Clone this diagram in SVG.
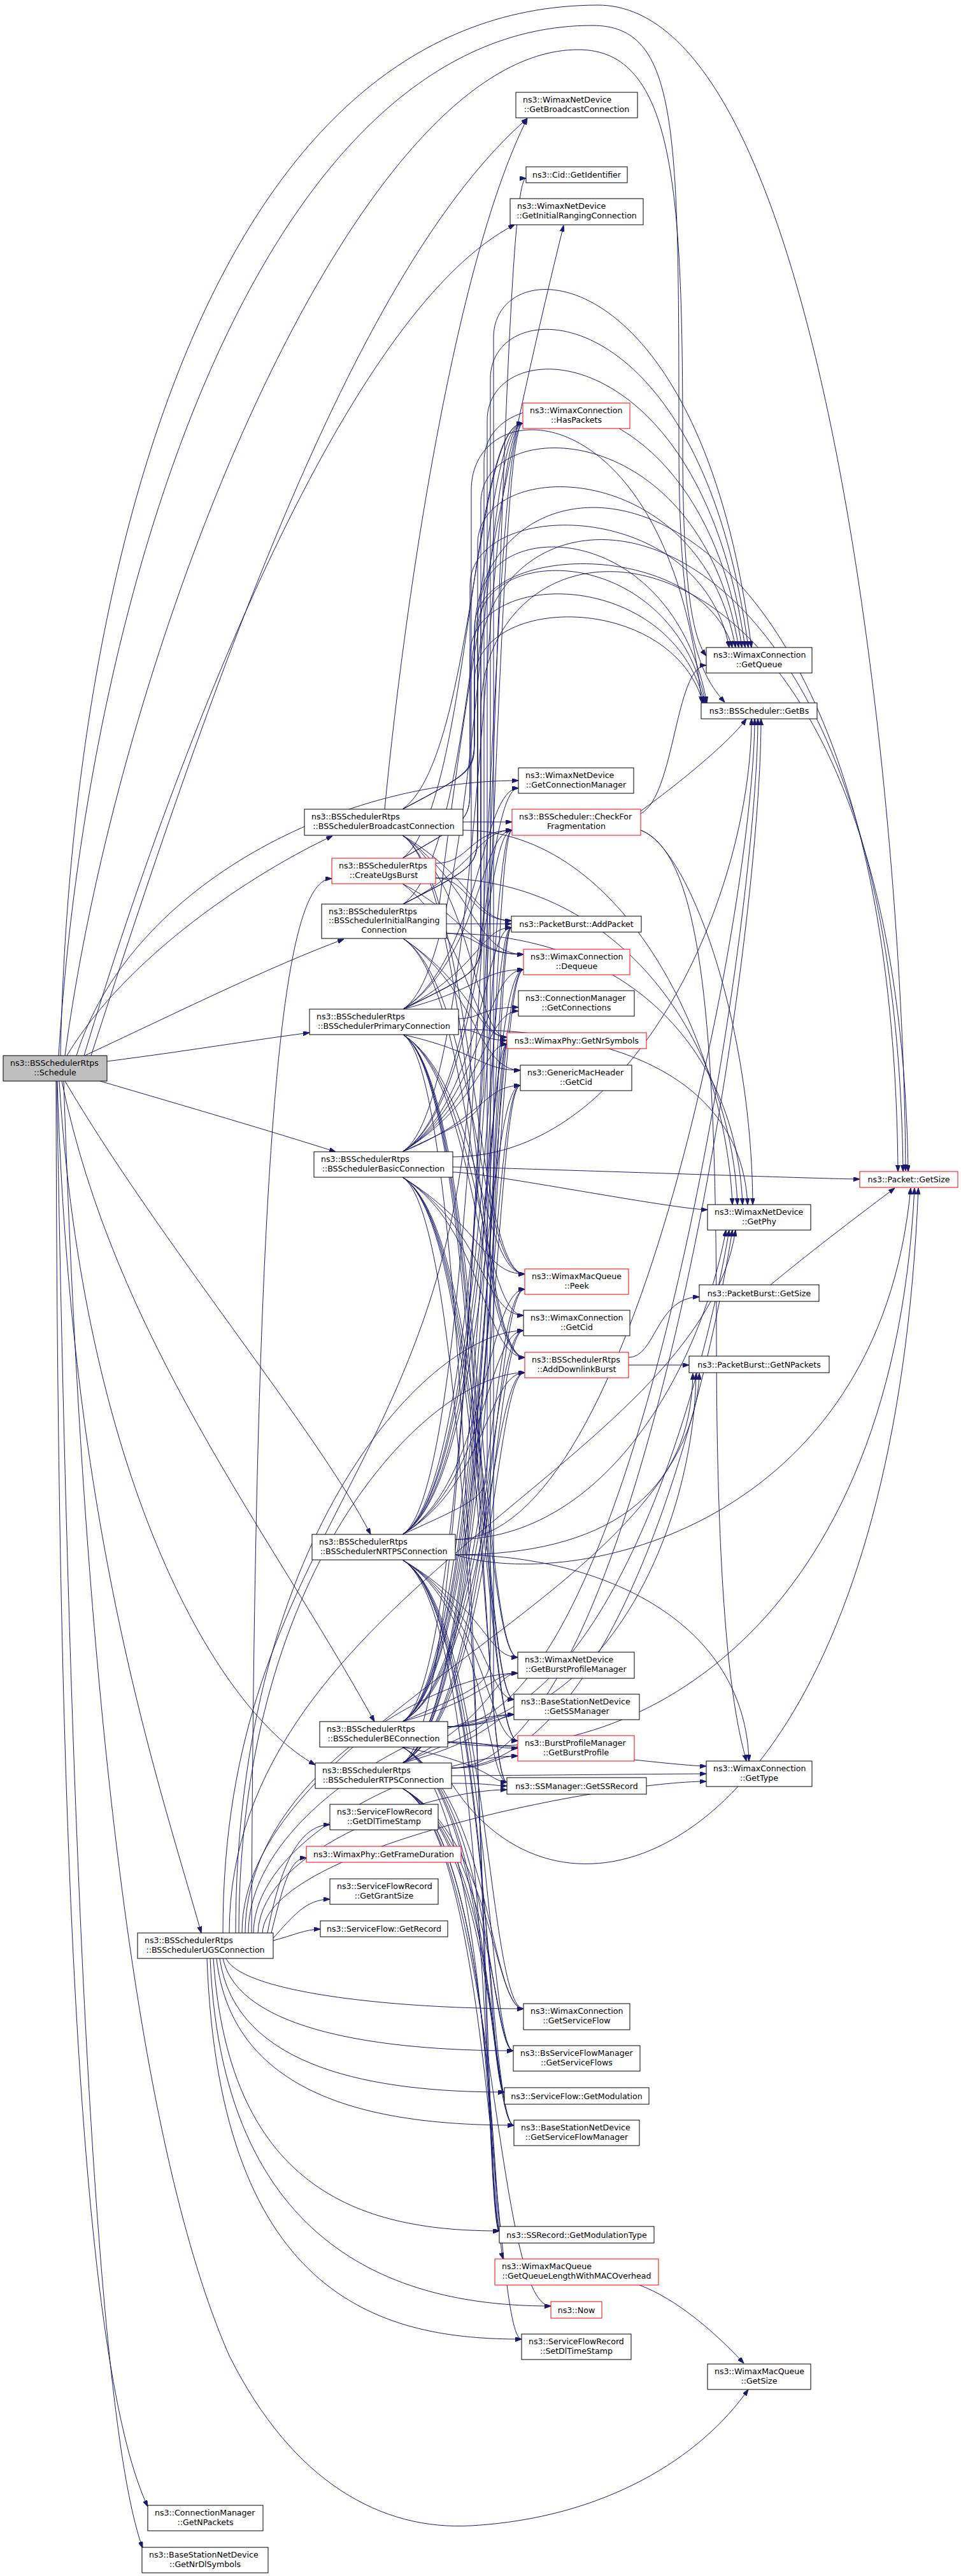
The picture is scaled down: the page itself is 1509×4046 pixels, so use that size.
<svg xmlns="http://www.w3.org/2000/svg" width="1509" height="4046" viewBox="0 0 1509 4046">
<defs>
<marker id="arr" markerUnits="userSpaceOnUse" markerWidth="10" markerHeight="7" refX="10" refY="3.5" orient="auto" viewBox="0 0 10 7"><path d="M0,0 L10,3.5 L0,7 z" fill="#191970" stroke="#191970"/></marker>
<style>
.e path{fill:none;stroke:#191970;stroke-width:1;marker-end:url(#arr)}
.n rect{fill:#fff;stroke:#000;stroke-width:1}
.r rect{stroke:#ff0000}
.g rect{fill:#bfbfbf}
text{font-family:"DejaVu Sans","Liberation Sans",sans-serif;font-size:12.6px;fill:#000}
.c{text-anchor:middle}
</style>
</defs>
<rect width="1509" height="4046" fill="#fff"/>
<g id="edges" class="e">
<path d="M95,1658 C110,900 330,10 938,8 C1300,6 1420,1300 1422,1839"/>
<path d="M92,1658 C140,900 420,40 930,40 C1066,40 1066,200 1066,700 C1066,1000 1100,1060 1138,1103"/>
<path d="M102,1658 C190,1000 560,78 908,78 C1060,78 1072,300 1072,700 C1072,900 1085,1000 1109,1030"/>
<path d="M132,1658 C300,1100 560,480 808,353"/>
<path d="M143,1658 C340,1050 560,420 828,186"/>
<path d="M120,1658 C200,1400 520,1226 814,1226"/>
<path d="M105,1658 C200,1500 400,1370 522,1313"/>
<path d="M133,1658 C300,1580 420,1520 540,1475"/>
<path d="M168,1667 C300,1650 400,1633 486,1622"/>
<path d="M157,1698 C300,1740 420,1775 527,1809"/>
<path d="M102,1698 C250,1950 500,2250 582,2410"/>
<path d="M97,1698 C180,2100 420,2400 588,2704"/>
<path d="M93,1698 C130,2300 330,2680 495,2772"/>
<path d="M90,1698 C110,2400 250,2800 316,3036"/>
<path d="M88,1698 C90,2800 120,3700 232,3937"/>
<path d="M89,1698 C110,2900 150,3800 224,4002"/>
<path d="M100,1698 C140,2900 250,3450 360,3700 C460,3900 600,3975 740,3967 C950,3955 1100,3860 1175,3753"/>

<path d="M604,1271 C640,900 720,400 828,186"/>
<path d="M632,1271 C745,1191 745,665 821,665"/>
<path d="M632,1271 C745,1211 745,1211 745,1150 L745,987 C745,847 1100,847 1150,1017"/>
<path d="M632,1271 C745,1211 745,1211 745,1160 L745,1070 C745,930 1055,930 1104,1104"/>
<path d="M727,1291 L804,1291"/>
<path d="M632,1312 C745,1379 745,1446 803,1446"/>
<path d="M632,1312 C745,1392 745,1499 822,1499"/>
<path d="M632,1312 C745,1392 745,1629 796,1629"/>
<path d="M632,1312 C745,1392 745,2001 824,2001"/>
<path d="M632,1312 C745,1392 745,2132 824,2132"/>
<path d="M727,1304 C980,1304 1140,1642 1150,1892"/>
<path d="M632,1271 C745,1211 745,1211 745,1150 L745,1000 C745,650 1400,650 1410,1840"/>

<path d="M632,1348 C738,1268 738,665 821,665"/>
<path d="M632,1348 C738,1288 738,1288 738,1230 L738,920 C738,780 1100,780 1145,1017"/>
<path d="M632,1348 C738,1288 738,1288 738,1230 L738,1030 C738,890 1055,890 1106,1104"/>
<path d="M684,1356 C738,1356 738,1304 804,1304"/>
<path d="M684,1379 C738,1379 738,1446 803,1446"/>
<path d="M632,1388 C738,1444 738,1499 822,1499"/>
<path d="M632,1388 C738,1468 738,1629 796,1629"/>
<path d="M684,1379 C980,1379 1148,1642 1158,1892"/>

<path d="M690,1420 C740,1000 800,700 885,354"/>
<path d="M633,1420 C750,1340 750,665 821,665"/>
<path d="M633,1420 C750,1360 750,1360 750,1300 L750,855 C750,715 1100,715 1155,1017"/>
<path d="M633,1420 C750,1360 750,1360 750,1300 L750,990 C750,850 1055,850 1108,1104"/>
<path d="M633,1420 C750,1362 750,1304 804,1304"/>
<path d="M701,1451 L803,1451"/>
<path d="M701,1466 C750,1466 750,1499 822,1499"/>
<path d="M633,1474 C750,1554 750,1629 796,1629"/>
<path d="M633,1474 C750,1554 750,1681 817,1681"/>
<path d="M633,1474 C750,1554 750,2001 824,2001"/>
<path d="M633,1474 C750,1554 750,2132 824,2132"/>
<path d="M701,1466 C980,1466 1156,1642 1166,1892"/>
<path d="M633,1420 C750,1360 750,1360 750,1300 L750,1060 C750,700 1405,700 1418,1840"/>

<path d="M633,1585 C755,1505 755,665 821,665"/>
<path d="M633,1585 C755,1525 755,1525 755,1465 L755,790 C755,650 1100,650 1160,1017"/>
<path d="M633,1585 C755,1525 755,1525 755,1465 L755,950 C755,810 1055,810 1110,1104"/>
<path d="M633,1585 C755,1505 755,1238 814,1238"/>
<path d="M633,1585 C755,1505 755,1304 804,1304"/>
<path d="M633,1585 C755,1521 755,1457 803,1457"/>
<path d="M633,1585 C755,1554 755,1523 822,1523"/>
<path d="M720,1600 C755,1600 755,1582 814,1582"/>
<path d="M720,1617 C755,1617 755,1634 796,1634"/>
<path d="M633,1625 C755,1653 755,1681 817,1681"/>
<path d="M633,1625 C755,1705 755,2001 824,2001"/>
<path d="M633,1625 C755,1705 755,2066 822,2066"/>
<path d="M633,1625 C755,1705 755,2132 824,2132"/>
<path d="M633,1625 C755,1705 755,2603 813,2603"/>
<path d="M633,1625 C755,1705 755,2669 807,2669"/>
<path d="M633,1625 C755,1705 755,2734 813,2734"/>
<path d="M633,1625 C755,1705 755,2799 796,2799"/>
<path d="M633,1625 C755,1705 755,3504 784,3504"/>
<path d="M720,1617 C980,1617 1164,1700 1174,1892"/>
<path d="M633,1585 C755,1525 755,1525 755,1465 L755,1120 C755,750 1410,750 1426,1840"/>

<path d="M632,1809 C760,1729 760,665 821,665"/>
<path d="M632,1809 C760,1749 760,1749 760,1689 L760,725 C760,585 1100,585 1165,1017"/>
<path d="M711,1817 C1000,1817 1180,1400 1180,1129"/>
<path d="M632,1809 C760,1729 760,1238 814,1238"/>
<path d="M632,1809 C760,1729 760,1304 804,1304"/>
<path d="M632,1809 C760,1729 760,1457 803,1457"/>
<path d="M632,1809 C760,1729 760,1523 822,1523"/>
<path d="M632,1809 C760,1729 760,1588 814,1588"/>
<path d="M632,1809 C760,1729 760,1640 796,1640"/>
<path d="M632,1809 C760,1757 760,1705 817,1705"/>
<path d="M711,1833 C760,1833 1300,1852 1350,1852"/>
<path d="M711,1841 C760,1841 1060,1900 1111,1900"/>
<path d="M632,1849 C760,1929 760,2001 824,2001"/>
<path d="M632,1849 C760,1929 760,2066 822,2066"/>
<path d="M632,1849 C760,1929 760,2132 824,2132"/>
<path d="M632,1849 C760,1929 760,2603 813,2603"/>
<path d="M632,1849 C760,1929 760,2669 807,2669"/>
<path d="M632,1849 C760,1929 760,2734 813,2734"/>
<path d="M632,1849 C760,1929 760,2799 796,2799"/>
<path d="M632,1849 C760,1929 760,3504 784,3504"/>

<path d="M632,2410 C765,2330 765,665 821,665"/>
<path d="M632,2410 C765,2350 765,2350 765,2290 L765,660 C765,520 1100,520 1170,1017"/>
<path d="M715,2418 C1000,2418 1185,1400 1185,1129"/>
<path d="M632,2410 C765,2330 765,1304 804,1304"/>
<path d="M632,2410 C765,2330 765,1457 803,1457"/>
<path d="M632,2410 C765,2330 765,1523 822,1523"/>
<path d="M632,2410 C765,2330 765,1640 796,1640"/>
<path d="M632,2410 C765,2330 765,1705 817,1705"/>
<path d="M715,2442 C900,2500 1380,2400 1430,1866"/>
<path d="M715,2418 C950,2418 1100,2150 1140,1932"/>
<path d="M632,2410 C765,2330 765,2025 824,2025"/>
<path d="M632,2410 C765,2330 765,2090 822,2090"/>
<path d="M632,2410 C765,2330 765,2156 824,2156"/>
<path d="M715,2442 C950,2442 1085,2350 1088,2157"/>
<path d="M632,2450 C765,2530 765,2603 813,2603"/>
<path d="M632,2450 C765,2530 765,2669 807,2669"/>
<path d="M632,2450 C765,2530 765,2734 813,2734"/>
<path d="M632,2450 C765,2530 765,2799 796,2799"/>
<path d="M715,2442 C950,2442 1170,2550 1176,2766"/>
<path d="M632,2450 C765,2530 765,3155 822,3155"/>
<path d="M632,2450 C765,2530 765,3221 806,3221"/>
<path d="M632,2450 C765,2530 765,3286 792,3286"/>
<path d="M632,2450 C765,2530 765,3338 807,3338"/>
<path d="M632,2450 C765,2530 765,3504 784,3504"/>

<path d="M632,2704 C770,2624 770,665 821,665"/>
<path d="M632,2704 C770,2644 770,2644 770,2584 L770,595 C770,455 1100,455 1175,1017"/>
<path d="M703,2712 C1000,2712 1190,1450 1190,1129"/>
<path d="M632,2704 C770,2624 770,1304 804,1304"/>
<path d="M632,2704 C770,2624 770,1457 803,1457"/>
<path d="M632,2704 C770,2624 770,1523 822,1523"/>
<path d="M632,2704 C770,2624 770,1640 796,1640"/>
<path d="M632,2704 C770,2624 770,1705 817,1705"/>
<path d="M703,2736 C950,2780 1400,2600 1436,1866"/>
<path d="M703,2712 C950,2712 1100,2200 1145,1932"/>
<path d="M632,2704 C770,2624 770,2025 824,2025"/>
<path d="M632,2704 C770,2624 770,2090 822,2090"/>
<path d="M632,2704 C770,2624 770,2156 824,2156"/>
<path d="M703,2712 C950,2712 1090,2400 1093,2157"/>
<path d="M632,2704 C770,2666 770,2628 813,2628"/>
<path d="M703,2712 C770,2712 770,2693 807,2693"/>
<path d="M703,2736 C770,2736 770,2746 813,2746"/>
<path d="M632,2744 C770,2771 770,2799 796,2799"/>
<path d="M703,2736 C770,2736 1060,2774 1109,2774"/>
<path d="M632,2744 C770,2824 770,3155 822,3155"/>
<path d="M632,2744 C770,2824 770,3221 806,3221"/>
<path d="M632,2744 C770,2824 770,3286 792,3286"/>
<path d="M632,2744 C770,2824 770,3338 807,3338"/>
<path d="M632,2744 C770,2824 770,3504 784,3504"/>

<path d="M632,2769 C775,2689 775,280 826,280"/>
<path d="M632,2769 C775,2709 775,2709 775,2649 L775,530 C775,390 1100,390 1180,1017"/>
<path d="M709,2777 C1000,2777 1195,1500 1195,1129"/>
<path d="M632,2769 C775,2689 775,1457 803,1457"/>
<path d="M632,2769 C775,2689 775,1523 822,1523"/>
<path d="M632,2769 C775,2689 775,1640 796,1640"/>
<path d="M632,2769 C775,2689 775,1705 817,1705"/>
<path d="M709,2801 C900,3100 1400,2900 1442,1866"/>
<path d="M709,2777 C950,2777 1100,2250 1150,1932"/>
<path d="M632,2769 C775,2689 775,2025 824,2025"/>
<path d="M632,2769 C775,2689 775,2090 822,2090"/>
<path d="M632,2769 C775,2689 775,2156 824,2156"/>
<path d="M632,2769 C775,2699 775,2628 813,2628"/>
<path d="M632,2769 C775,2731 775,2693 807,2693"/>
<path d="M709,2777 C775,2777 775,2758 813,2758"/>
<path d="M709,2789 C775,2789 1060,2786 1109,2786"/>
<path d="M709,2801 C775,2801 775,2805 796,2805"/>
<path d="M632,2809 C775,2889 775,3155 822,3155"/>
<path d="M632,2809 C775,2889 775,3221 806,3221"/>
<path d="M632,2809 C775,2889 775,3286 792,3286"/>
<path d="M632,2809 C775,2889 775,3338 807,3338"/>
<path d="M632,2809 C775,2889 775,3504 784,3504"/>
<path d="M632,2809 C775,2889 775,3500 790,3548"/>
<path d="M632,2809 C775,2889 775,3622 865,3622"/>
<path d="M632,2809 C775,2889 775,3674 819,3674"/>

<path d="M395,3036 C400,1700 450,1380 521,1380"/>
<path d="M420,3036 C440,2930 470,2866 518,2866"/>
<path d="M425,3040 C445,2960 455,2918 481,2918"/>
<path d="M429,3044 C460,3010 480,2983 518,2983"/>
<path d="M429,3048 C460,3040 480,3030 503,3030"/>
<path d="M350,3036 C350,2400 740,2300 740,1600 L740,770 C740,610 1050,610 1102,1104"/>
<path d="M360,3036 C360,2500 1100,2300 1155,1932"/>
<path d="M370,3036 C370,2400 680,2090 822,2090"/>
<path d="M375,3036 C375,2450 680,2156 824,2156"/>
<path d="M380,3036 C380,2700 1090,2500 1098,2157"/>
<path d="M385,3036 C385,2800 680,2628 813,2628"/>
<path d="M390,3036 C390,2850 680,2693 807,2693"/>
<path d="M398,3036 C400,2880 680,2758 813,2758"/>
<path d="M405,3036 C410,2900 680,2811 796,2811"/>
<path d="M412,3036 C420,2900 960,2798 1109,2798"/>
<path d="M355,3076 C380,3130 620,3155 822,3155"/>
<path d="M350,3076 C375,3190 600,3221 806,3221"/>
<path d="M345,3076 C370,3250 590,3286 792,3286"/>
<path d="M340,3076 C365,3300 600,3338 807,3338"/>
<path d="M335,3076 C360,3450 580,3504 784,3504"/>
<path d="M330,3076 C350,3560 660,3622 865,3622"/>
<path d="M325,3076 C345,3620 610,3674 819,3674"/>

<path d="M1006,1278 C1060,1250 1060,1045 1109,1045"/>
<path d="M1006,1274 C1080,1220 1150,1160 1172,1129"/>
<path d="M1006,1304 C1080,1330 1180,1600 1182,1892"/>
<path d="M1006,1304 C1100,1340 1125,1600 1125,2100 C1125,2600 1160,2720 1172,2766"/>
<path d="M987,2132 C1030,2132 1030,2037 1098,2037"/>
<path d="M987,2144 L1082,2144"/>
<path d="M1210,2018 C1280,1960 1360,1900 1405,1866"/>
<path d="M1004,3589 C1060,3610 1120,3660 1168,3712"/>
</g>

<g id="Schedule" class="n g"><rect x="5" y="1658" width="163" height="40"/><text x="16" y="1674">ns3::BSSchedulerRtps</text><text class="c" x="86.5" y="1688.5">::Schedule</text></g>
<g id="BroadcastConnection" class="n"><rect x="478" y="1271" width="249" height="41"/><text x="489" y="1287">ns3::BSSchedulerRtps</text><text class="c" x="602.5" y="1301.5">::BSSchedulerBroadcastConnection</text></g>
<g id="CreateUgsBurst" class="n r"><rect x="521" y="1348" width="163" height="40"/><text x="532" y="1364">ns3::BSSchedulerRtps</text><text class="c" x="602.5" y="1378.5">::CreateUgsBurst</text></g>
<g id="InitialRangingConnection" class="n"><rect x="505" y="1420" width="196" height="54"/><text x="516" y="1435.5">ns3::BSSchedulerRtps</text><text x="516" y="1450">::BSSchedulerInitialRanging</text><text class="c" x="603" y="1464.5">Connection</text></g>
<g id="PrimaryConnection" class="n"><rect x="486" y="1585" width="234" height="40"/><text x="497" y="1601">ns3::BSSchedulerRtps</text><text class="c" x="603" y="1615.5">::BSSchedulerPrimaryConnection</text></g>
<g id="BasicConnection" class="n"><rect x="493" y="1809" width="218" height="40"/><text x="504" y="1825">ns3::BSSchedulerRtps</text><text class="c" x="602" y="1839.5">::BSSchedulerBasicConnection</text></g>
<g id="NRTPSConnection" class="n"><rect x="490" y="2410" width="225" height="40"/><text x="501" y="2426">ns3::BSSchedulerRtps</text><text class="c" x="602.5" y="2440.5">::BSSchedulerNRTPSConnection</text></g>
<g id="BEConnection" class="n"><rect x="502" y="2704" width="201" height="40"/><text x="513" y="2720">ns3::BSSchedulerRtps</text><text class="c" x="602.5" y="2734.5">::BSSchedulerBEConnection</text></g>
<g id="RTPSConnection" class="n"><rect x="495" y="2769" width="214" height="40"/><text x="506" y="2785">ns3::BSSchedulerRtps</text><text class="c" x="602" y="2799.5">::BSSchedulerRTPSConnection</text></g>
<g id="GetDlTimeStamp" class="n"><rect x="518" y="2834" width="170" height="40"/><text x="529" y="2850">ns3::ServiceFlowRecord</text><text class="c" x="603" y="2864.5">::GetDlTimeStamp</text></g>
<g id="GetFrameDuration" class="n r"><rect x="481" y="2900" width="243" height="25"/><text class="c" x="602.5" y="2917">ns3::WimaxPhy::GetFrameDuration</text></g>
<g id="GetGrantSize" class="n"><rect x="518" y="2951" width="170" height="40"/><text x="529" y="2967">ns3::ServiceFlowRecord</text><text class="c" x="603" y="2981.5">::GetGrantSize</text></g>
<g id="GetRecord" class="n"><rect x="503" y="3017" width="200" height="25"/><text class="c" x="603" y="3034">ns3::ServiceFlow::GetRecord</text></g>
<g id="UGSConnection" class="n"><rect x="216" y="3036" width="213" height="40"/><text x="227" y="3052">ns3::BSSchedulerRtps</text><text class="c" x="322.5" y="3066.5">::BSSchedulerUGSConnection</text></g>
<g id="CM_GetNPackets" class="n"><rect x="232" y="3935" width="181" height="40"/><text x="243" y="3951">ns3::ConnectionManager</text><text class="c" x="322.5" y="3965.5">::GetNPackets</text></g>
<g id="GetNrDlSymbols" class="n"><rect x="223" y="4001" width="198" height="40"/><text x="234" y="4017">ns3::BaseStationNetDevice</text><text class="c" x="322" y="4031.5">::GetNrDlSymbols</text></g>

<g id="GetBroadcastConnection" class="n"><rect x="810" y="145" width="191" height="40"/><text x="821" y="161">ns3::WimaxNetDevice</text><text class="c" x="905.5" y="175.5">::GetBroadcastConnection</text></g>
<g id="GetIdentifier" class="n"><rect x="826" y="262" width="159" height="25"/><text class="c" x="905.5" y="279">ns3::Cid::GetIdentifier</text></g>
<g id="GetInitialRangingConnection" class="n"><rect x="801" y="312" width="209" height="41"/><text x="812" y="328">ns3::WimaxNetDevice</text><text class="c" x="905.5" y="342.5">::GetInitialRangingConnection</text></g>
<g id="HasPackets" class="n r"><rect x="821" y="633" width="168" height="40"/><text x="832" y="649">ns3::WimaxConnection</text><text class="c" x="905" y="663.5">::HasPackets</text></g>
<g id="GetConnectionManager" class="n"><rect x="814" y="1206" width="181" height="40"/><text x="825" y="1222">ns3::WimaxNetDevice</text><text class="c" x="904.5" y="1236.5">::GetConnectionManager</text></g>
<g id="CheckForFragmentation" class="n r"><rect x="804" y="1271" width="202" height="41"/><text x="815" y="1287">ns3::BSScheduler::CheckFor</text><text class="c" x="905" y="1301.5">Fragmentation</text></g>
<g id="AddPacket" class="n"><rect x="803" y="1439" width="204" height="25"/><text class="c" x="905" y="1456">ns3::PacketBurst::AddPacket</text></g>
<g id="Dequeue" class="n r"><rect x="822" y="1491" width="167" height="40"/><text x="833" y="1507">ns3::WimaxConnection</text><text class="c" x="905.5" y="1521.5">::Dequeue</text></g>
<g id="GetConnections" class="n"><rect x="814" y="1556" width="182" height="40"/><text x="825" y="1572">ns3::ConnectionManager</text><text class="c" x="905" y="1586.5">::GetConnections</text></g>
<g id="GetNrSymbols" class="n r"><rect x="796" y="1622" width="219" height="25"/><text class="c" x="905.5" y="1639">ns3::WimaxPhy::GetNrSymbols</text></g>
<g id="GenericMacHeader_GetCid" class="n"><rect x="817" y="1673" width="175" height="40"/><text x="828" y="1689">ns3::GenericMacHeader</text><text class="c" x="904.5" y="1703.5">::GetCid</text></g>
<g id="Peek" class="n r"><rect x="824" y="1993" width="163" height="40"/><text x="835" y="2009">ns3::WimaxMacQueue</text><text class="c" x="905.5" y="2023.5">::Peek</text></g>
<g id="WimaxConnection_GetCid" class="n"><rect x="822" y="2058" width="167" height="40"/><text x="833" y="2074">ns3::WimaxConnection</text><text class="c" x="905.5" y="2088.5">::GetCid</text></g>
<g id="AddDownlinkBurst" class="n r"><rect x="824" y="2124" width="163" height="40"/><text x="835" y="2140">ns3::BSSchedulerRtps</text><text class="c" x="905.5" y="2154.5">::AddDownlinkBurst</text></g>
<g id="GetBurstProfileManager" class="n"><rect x="813" y="2595" width="183" height="41"/><text x="824" y="2611">ns3::WimaxNetDevice</text><text class="c" x="904.5" y="2625.5">::GetBurstProfileManager</text></g>
<g id="GetSSManager" class="n"><rect x="807" y="2661" width="197" height="40"/><text x="818" y="2677">ns3::BaseStationNetDevice</text><text class="c" x="905.5" y="2691.5">::GetSSManager</text></g>
<g id="GetBurstProfile" class="n r"><rect x="813" y="2726" width="183" height="40"/><text x="824" y="2742">ns3::BurstProfileManager</text><text class="c" x="904.5" y="2756.5">::GetBurstProfile</text></g>
<g id="GetSSRecord" class="n"><rect x="796" y="2792" width="219" height="26"/><text class="c" x="905.5" y="2809.5">ns3::SSManager::GetSSRecord</text></g>
<g id="GetServiceFlow" class="n"><rect x="822" y="3147" width="167" height="41"/><text x="833" y="3163">ns3::WimaxConnection</text><text class="c" x="905.5" y="3177.5">::GetServiceFlow</text></g>
<g id="GetServiceFlows" class="n"><rect x="806" y="3213" width="199" height="40"/><text x="817" y="3229">ns3::BsServiceFlowManager</text><text class="c" x="905.5" y="3243.5">::GetServiceFlows</text></g>
<g id="GetModulation" class="n"><rect x="792" y="3279" width="227" height="26"/><text class="c" x="905.5" y="3296.5">ns3::ServiceFlow::GetModulation</text></g>
<g id="GetServiceFlowManager" class="n"><rect x="807" y="3330" width="197" height="40"/><text x="818" y="3346">ns3::BaseStationNetDevice</text><text class="c" x="905.5" y="3360.5">::GetServiceFlowManager</text></g>
<g id="GetModulationType" class="n"><rect x="784" y="3497" width="243" height="26"/><text class="c" x="905.5" y="3514.5">ns3::SSRecord::GetModulationType</text></g>
<g id="GetQueueLengthWithMACOverhead" class="n r"><rect x="777" y="3548" width="257" height="41"/><text x="788" y="3564">ns3::WimaxMacQueue</text><text class="c" x="905.5" y="3578.5">::GetQueueLengthWithMACOverhead</text></g>
<g id="Now" class="n r"><rect x="865" y="3615" width="80" height="26"/><text class="c" x="905" y="3632.5">ns3::Now</text></g>
<g id="SetDlTimeStamp" class="n"><rect x="819" y="3666" width="172" height="40"/><text x="830" y="3682">ns3::ServiceFlowRecord</text><text class="c" x="905" y="3696.5">::SetDlTimeStamp</text></g>

<g id="GetQueue" class="n"><rect x="1109" y="1017" width="166" height="40"/><text x="1120" y="1033">ns3::WimaxConnection</text><text class="c" x="1192" y="1047.5">::GetQueue</text></g>
<g id="GetBs" class="n"><rect x="1101" y="1104" width="182" height="25"/><text class="c" x="1192" y="1121">ns3::BSScheduler::GetBs</text></g>
<g id="GetPhy" class="n"><rect x="1111" y="1892" width="162" height="40"/><text x="1122" y="1908">ns3::WimaxNetDevice</text><text class="c" x="1192" y="1922.5">::GetPhy</text></g>
<g id="PacketBurst_GetSize" class="n"><rect x="1098" y="2018" width="188" height="26"/><text class="c" x="1192" y="2035.5">ns3::PacketBurst::GetSize</text></g>
<g id="PacketBurst_GetNPackets" class="n"><rect x="1082" y="2130" width="220" height="26"/><text class="c" x="1192" y="2147.5">ns3::PacketBurst::GetNPackets</text></g>
<g id="GetType" class="n"><rect x="1109" y="2766" width="166" height="40"/><text x="1120" y="2782">ns3::WimaxConnection</text><text class="c" x="1192" y="2796.5">::GetType</text></g>
<g id="WimaxMacQueue_GetSize" class="n"><rect x="1111" y="3713" width="162" height="40"/><text x="1122" y="3729">ns3::WimaxMacQueue</text><text class="c" x="1192" y="3743.5">::GetSize</text></g>
<g id="Packet_GetSize" class="n r"><rect x="1350" y="1840" width="154" height="25"/><text class="c" x="1427" y="1857">ns3::Packet::GetSize</text></g>
</svg>
